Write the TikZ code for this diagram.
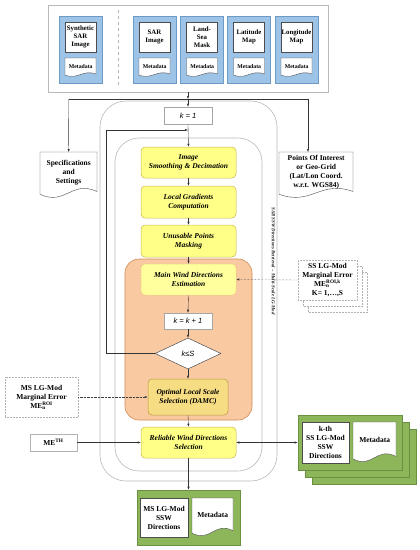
\documentclass[tikz,border=0pt]{standalone}
\usepackage{fontspec}
\setmainfont{Liberation Serif}
\setsansfont{Liberation Sans}
\usetikzlibrary{arrows.meta,shapes.geometric}
\definecolor{bluefill}{HTML}{9DC3E6}
\definecolor{blueline}{HTML}{6B9BC6}
\definecolor{procyellow}{HTML}{FFFF88}
\definecolor{procline}{HTML}{C9B44A}
\definecolor{mainyellow}{HTML}{FFFF9E}
\definecolor{optfill}{HTML}{F6DC82}
\definecolor{optline}{HTML}{B89A3C}
\definecolor{orangefill}{HTML}{F9C9A2}
\definecolor{orangeline}{HTML}{CF8A55}
\definecolor{greenfill}{HTML}{8DB65A}
\definecolor{greenline}{HTML}{6A9042}
\newcommand{\docnode}[7][docfill]{%
  \path[#1] ({#3},{#4}) -- ++(#5,0) -- ++(0,{0.84*#6})
    .. controls +({-0.45*#5},{-0.25*#6}) and +({0.45*#5},{0.25*#6}) .. ++({-#5},{0.06*#6}) -- cycle;
  \node[minimum width=#5pt,minimum height={0.86*#6pt},anchor=north west] (#2) at ({#3},{#4}) {#7};}
\begin{document}
\begin{tikzpicture}[x=1pt,y=-1pt,
    >={Latex[length=3pt,width=2.2pt]},
    every node/.style={font=\fontsize{7.5}{9}\selectfont\bfseries,align=center,inner sep=0pt},
    frame/.style={draw=gray!55,line width=.6pt},
    bluebox/.style={fill=bluefill,draw=blueline,line width=.6pt},
    whitebox/.style={fill=white,draw=gray!60!black,line width=.4pt},
    docfill/.style={fill=white,draw=gray!60!black,line width=.4pt},
    greenbox/.style={fill=greenfill,draw=greenline,line width=.6pt},
    procbox/.style={rounded corners=4pt,fill=procyellow,draw=procline,line width=.5pt,
      font=\fontsize{7.5}{9}\selectfont\bfseries\itshape,minimum width=95pt,minimum height=31pt},
    counter/.style={draw=gray!70,fill=white,line width=.5pt,minimum width=48pt,minimum height=17pt,
      font=\fontsize{7.5}{9}\selectfont\sffamily\itshape},
    dotbox/.style={fill=white,draw=gray!60,densely dotted,line width=.5pt},
    link/.style={->,draw=gray!40!black,line width=.35pt},
    dotlink/.style={->,draw=gray!50!black,densely dotted,line width=.4pt}]
    \useasboundingbox (0,0) rectangle (420,550);
    \node[frame,fill=white,minimum width=280pt,minimum height=87pt] (inputs) at (188,48.5) {};
    \draw[dashed,gray!60] (118,10) -- (118,88);
    \foreach \cx/\nm/\txt in {80.5/syn/{Synthetic\\SAR\\Image},154.5/sar/{SAR\\Image},202/lsm/{Land-\\Sea\\Mask},249/lat/{Latitude\\Map},296.5/lon/{Longitude\\Map}} {
        \node[bluebox,minimum width=43pt,minimum height=67pt] (\nm) at (\cx,49.5) {};
        \node[whitebox,minimum width=31pt,minimum height=30pt,font=\fontsize{6.8}{8}\selectfont\bfseries] (\nm txt) at (\cx,37) {\txt};
        \docnode{\nm meta}{\cx-15.5}{58}{31}{19}{\fontsize{5.8}{7}\selectfont Metadata}
    }
    \coordinate (dist) at (188,99);
    \coordinate (distL) at (68.5,99);
    \coordinate (distR) at (308,99);
    \draw[frame,rounded corners=26pt] (100,101) rectangle (277,481);
    \draw[frame,rounded corners=24pt] (115,138) rectangle (262,471);
    \draw[fill=orangefill,draw=orangeline,line width=.6pt,rounded corners=14pt] (125,259) rectangle (252,420);
    \node[rotate=-90,font=\fontsize{4.8}{5}\selectfont\bfseries\itshape,text=gray!25!black] (title) at (273.5,261) {SAR SSW Directions Retrieval -- Multi-Scale LG-Mod};
    \docnode{spec}{40}{152}{57}{47}{Specifications\\and\\Settings}
    \docnode{poi}{279}{152}{74}{47}{Points Of Interest\\or Geo-Grid\\(Lat/Lon Coord.\\w.r.t. WGS84)}
    \node[counter] (kone) at (188,115.5) {k = 1};
    \node[procbox] (img) at (188.5,162.5) {Image\\Smoothing \& Decimation};
    \node[procbox,minimum height=32pt] (grad) at (188.5,202) {Local Gradients\\Computation};
    \node[procbox,minimum height=32pt] (mask) at (188.5,241) {Unusable Points\\Masking};
    \node[procbox,fill=mainyellow,densely dotted] (main) at (188.5,279.5) {Main Wind Directions\\Estimation};
    \node[counter,minimum height=16pt] (kinc) at (188,321) {k = k + 1};
    \node[diamond,draw=gray!60!black,fill=white,line width=.5pt,minimum width=66pt,minimum height=31pt,
      font=\fontsize{7.5}{9}\selectfont\sffamily\itshape] (kle) at (188,353.5) {k≤S};
    \node[procbox,fill=optfill,draw=optline,minimum width=80pt,minimum height=36pt] (opt) at (188,397) {Optimal Local Scale\\Selection (DAMC)};
    \node[procbox] (rel) at (188.5,442.5) {Reliable Wind Directions\\Selection};
    \foreach \d in {10,5} {
        \draw[dotbox] ({298+\d},{260+1.2*\d}) rectangle +(59,40);
    }
    \node[dotbox,minimum width=59pt,minimum height=40pt] (ssme) at (327.5,280) {SS LG-Mod\\Marginal Error\\ME\rlap{\textsubscript{n}}\textsuperscript{ROI,k}\\K= 1,…,S};
    \node[dotbox,minimum width=73pt,minimum height=40pt] (msme) at (41.5,397) {MS LG-Mod\\Marginal Error\\ME\rlap{\textsubscript{n}}\textsuperscript{ROI}};
    \node[fill=white,draw=gray!60,line width=.5pt,minimum width=47pt,minimum height=17pt] (meth) at (53.5,442.5) {ME\textsuperscript{TH}};
    \foreach \d in {14,7} {
        \draw[greenbox] ({298+\d},{415+\d}) rectangle +(104,55);
    }
    \node[greenbox,minimum width=104pt,minimum height=55pt] (kth) at (350,442.5) {};
    \node[whitebox,minimum width=47pt,minimum height=41pt] (kthtxt) at (325.5,442.5) {k-th\\SS LG-Mod\\SSW\\Directions};
    \docnode{kthmeta}{353}{422}{43}{41}{Metadata}
    \node[greenbox,minimum width=103pt,minimum height=55pt] (msout) at (188.5,517.5) {};
    \node[whitebox,minimum width=48pt,minimum height=39pt] (msouttxt) at (164,517.5) {MS LG-Mod\\SSW\\Directions};
    \docnode{msoutmeta}{192}{498}{41}{39}{Metadata}
    \coordinate (loopC) at (106,130);
    \coordinate (loopJ) at (188,130);
    \draw[link] (inputs.south) -- (dist);
    \draw[link,-] (distL) -- (distR);
    \draw[link] (distL) -- (spec.north);
    \draw[link] (distR) -- (distR |- poi.north);
    \draw[link] (dist) -- (kone.north);
    \draw[link] (kone.south) -- (img.north);
    \draw[link] (img.south) -- (grad.north);
    \draw[link] (grad.south) -- (mask.north);
    \draw[link] (mask.south) -- (main.north);
    \draw[link] (main.south) -- (kinc.north);
    \draw[link] (kinc.south) -- (kle.north);
    \draw[link] (kle.south) -- (opt.north);
    \draw[link] (opt.south) -- (rel.north);
    \draw[link] (rel.south) -- (msout.north);
    \draw[link] (kle.west) -| (loopC) -- (loopJ);
    \draw[dotlink] (ssme.west) -- (main.east);
    \draw[dotlink] (msme.east) -- (opt.west);
    \draw[link] (meth.east) -- (rel.west);
    \draw[link,<->] (rel.east) -- (kth.west);
\end{tikzpicture}
\end{document}
